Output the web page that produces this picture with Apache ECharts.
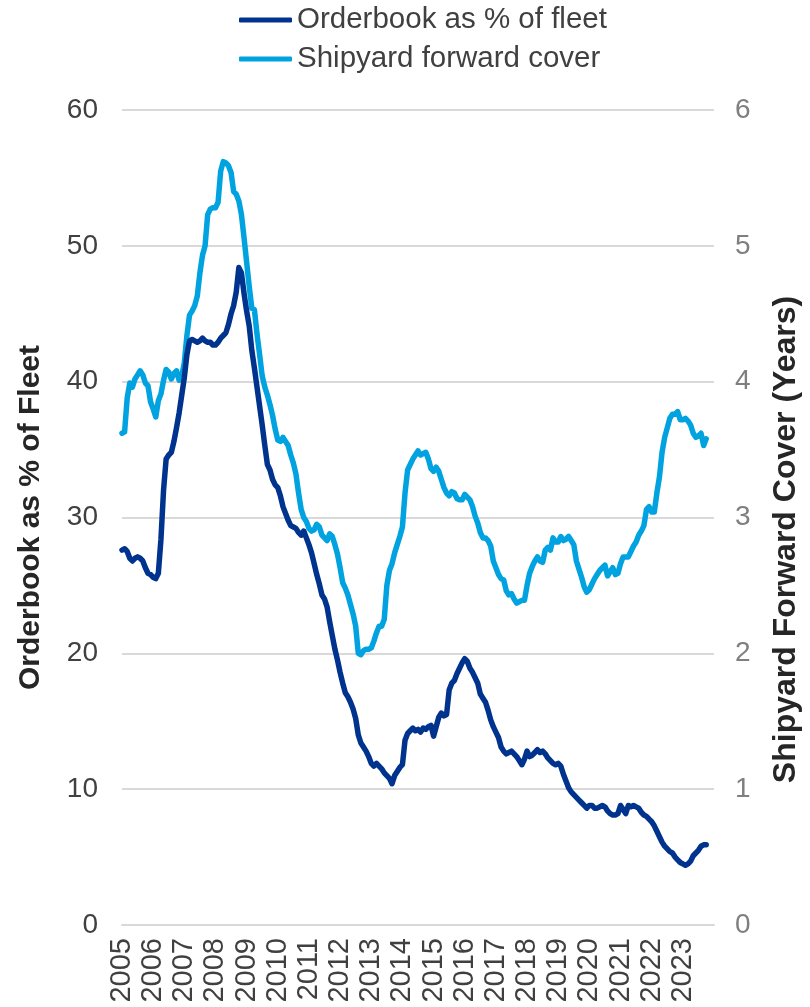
<!DOCTYPE html>
<html>
<head>
<meta charset="utf-8">
<script src="https://cdn.jsdelivr.net/npm/echarts@6/dist/echarts.min.js"></script>
<style>
  html, body { margin: 0; padding: 0; background: #ffffff; }
  #chart { width: 810px; height: 1007px; }
</style>
</head>
<body>
<div id="chart"></div>
<script>
// Monthly series, starting January 2005
const startYear = 2005;
const endYear = 2024;
const yearTicks = [2005, 2006, 2007, 2008, 2009, 2010, 2011, 2012, 2013, 2014,
                   2015, 2016, 2017, 2018, 2019, 2020, 2021, 2022, 2023];

// Orderbook as % of fleet (left axis, %)
const orderbookPct = [
  27.6, 27.7, 27.5, 27.0, 26.8, 27.0, 27.1, 27.0, 26.8, 26.3, 25.9, 25.8, // 2005
  25.6, 25.5, 25.9, 28.4, 32.0, 34.3, 34.6, 34.8, 35.6, 36.6, 37.7, 39.0, // 2006
  40.3, 42.0, 43.0, 43.1, 43.0, 42.9, 43.0, 43.2, 43.0, 42.9, 42.9, 42.7, // 2007
  42.7, 42.9, 43.2, 43.4, 43.6, 44.2, 45.0, 45.6, 46.6, 48.4, 48.0, 46.5, // 2008
  45.2, 44.1, 42.3, 41.0, 39.6, 38.2, 36.8, 35.3, 33.9, 33.5, 32.8, 32.4, // 2009
  32.2, 31.6, 30.8, 30.3, 29.8, 29.4, 29.3, 29.2, 28.9, 28.7, 29.0, 28.5, // 2010
  28.0, 27.4, 26.6, 25.8, 25.1, 24.3, 24.0, 23.4, 22.3, 21.3, 20.3, 19.5, // 2011
  18.6, 17.8, 17.1, 16.8, 16.4, 15.9, 15.2, 14.0, 13.4, 13.1, 12.8, 12.4, // 2012
  11.9, 11.7, 11.9, 11.7, 11.5, 11.2, 11.0, 10.8, 10.4, 11.0, 11.3, 11.6, // 2013
  11.8, 13.6, 14.1, 14.3, 14.5, 14.3, 14.4, 14.2, 14.5, 14.4, 14.6, 14.7, // 2014
  13.9, 14.6, 15.3, 15.6, 15.4, 15.5, 17.3, 17.8, 18.0, 18.5, 18.9, 19.3, // 2015
  19.6, 19.4, 18.9, 18.6, 18.2, 17.8, 17.0, 16.7, 16.4, 15.8, 15.1, 14.6, // 2016
  14.2, 13.8, 13.1, 12.8, 12.6, 12.7, 12.8, 12.6, 12.4, 12.1, 11.8, 12.2, // 2017
  12.8, 12.4, 12.5, 12.7, 12.9, 12.7, 12.8, 12.6, 12.3, 12.1, 11.9, 11.8, // 2018
  11.9, 11.7, 11.1, 10.6, 10.1,  9.8,  9.6,  9.4,  9.2,  9.0,  8.8,  8.6, // 2019
   8.8,  8.8,  8.6,  8.6,  8.7,  8.8,  8.7,  8.4,  8.2,  8.1,  8.1,  8.2, // 2020
   8.8,  8.5,  8.2,  8.8,  8.7,  8.8,  8.7,  8.6,  8.3,  8.1,  8.0,  7.8, // 2021
   7.6,  7.3,  6.9,  6.5,  6.1,  5.8,  5.6,  5.4,  5.3,  5.0,  4.8,  4.6, // 2022
   4.5,  4.4,  4.5,  4.7,  5.1,  5.3,  5.5,  5.8,  5.9,  5.9              // 2023
];

// Shipyard forward cover (right axis, years)
const forwardCoverYears = [
  3.62, 3.63, 3.88, 3.99, 3.96, 4.02, 4.05, 4.08, 4.05, 3.99, 3.97, 3.85, // 2005
  3.80, 3.74, 3.86, 3.91, 4.01, 4.09, 4.07, 4.02, 4.06, 4.08, 4.01, 4.04, // 2006
  4.14, 4.34, 4.49, 4.52, 4.56, 4.63, 4.80, 4.93, 5.00, 5.23, 5.27, 5.28, // 2007
  5.28, 5.32, 5.55, 5.62, 5.61, 5.59, 5.54, 5.40, 5.38, 5.33, 5.23, 5.06, // 2008
  4.88, 4.70, 4.54, 4.53, 4.35, 4.20, 4.04, 3.96, 3.90, 3.83, 3.75, 3.65, // 2009
  3.57, 3.56, 3.59, 3.56, 3.53, 3.46, 3.40, 3.32, 3.18, 3.06, 3.00, 2.97, // 2010
  2.92, 2.90, 2.91, 2.95, 2.93, 2.87, 2.85, 2.83, 2.88, 2.86, 2.80, 2.73, // 2011
  2.63, 2.52, 2.48, 2.43, 2.36, 2.29, 2.20, 2.00, 1.99, 2.02, 2.03, 2.03, // 2012
  2.04, 2.09, 2.15, 2.20, 2.20, 2.25, 2.50, 2.61, 2.66, 2.74, 2.80, 2.86, // 2013
  2.93, 3.18, 3.35, 3.39, 3.43, 3.46, 3.49, 3.46, 3.47, 3.48, 3.43, 3.36, // 2014
  3.34, 3.37, 3.34, 3.28, 3.22, 3.18, 3.16, 3.19, 3.18, 3.14, 3.13, 3.13, // 2015
  3.17, 3.15, 3.13, 3.08, 3.01, 2.96, 2.89, 2.85, 2.85, 2.83, 2.79, 2.68, // 2016
  2.63, 2.58, 2.55, 2.54, 2.46, 2.43, 2.44, 2.40, 2.37, 2.38, 2.39, 2.39, // 2017
  2.50, 2.59, 2.64, 2.68, 2.71, 2.68, 2.67, 2.76, 2.78, 2.76, 2.85, 2.82, // 2018
  2.82, 2.86, 2.83, 2.84, 2.86, 2.83, 2.80, 2.68, 2.62, 2.56, 2.49, 2.45, // 2019
  2.47, 2.51, 2.55, 2.58, 2.61, 2.63, 2.65, 2.57, 2.60, 2.63, 2.58, 2.59, // 2020
  2.66, 2.71, 2.71, 2.71, 2.75, 2.79, 2.82, 2.87, 2.90, 2.94, 3.06, 3.08, // 2021
  3.04, 3.04, 3.18, 3.30, 3.48, 3.59, 3.66, 3.73, 3.76, 3.76, 3.78, 3.72, // 2022
  3.72, 3.73, 3.71, 3.68, 3.62, 3.59, 3.60, 3.62, 3.53, 3.58              // 2023
];

const seriesNames = ['Orderbook as % of fleet', 'Shipyard forward cover'];
const axisTitles = ['Orderbook as % of Fleet', 'Shipyard Forward Cover (Years)'];

// Pair each monthly value with its date as a fractional year
const toPoints = arr => arr.map((v, i) => [startYear + i / 12, v]);

const FONT = "'Liberation Sans', Arial, Helvetica, sans-serif";
const GRID_COLOR = '#d9d9d9';

const chart = echarts.init(document.getElementById('chart'), null, { renderer: 'canvas' });

chart.setOption({
  backgroundColor: '#ffffff',
  animation: false,
  textStyle: { fontFamily: FONT },
  legend: {
    data: seriesNames,
    orient: 'vertical',
    left: 234,
    top: 0,
    itemWidth: 53,
    itemHeight: 5,
    itemGap: 9,
    icon: 'roundRect',
    textStyle: { fontFamily: FONT, fontSize: 29.5, color: '#404040', lineHeight: 30 }
  },
  grid: { left: 122, right: 85, top: 110, bottom: 82, containLabel: false },
  xAxis: {
    type: 'value',
    min: startYear,
    max: endYear,
    interval: 1,
    axisLine: { show: true, lineStyle: { color: GRID_COLOR, width: 2 } },
    axisTick: { show: false },
    splitLine: { show: false },
    axisLabel: {
      rotate: 90,
      margin: 13,
      fontSize: 29,
      fontFamily: FONT,
      color: '#404040',
      formatter: v => (yearTicks.indexOf(v) >= 0 ? String(v) : '')
    }
  },
  yAxis: [
    {
      type: 'value',
      min: 0,
      max: 60,
      interval: 10,
      position: 'left',
      axisLine: { show: false },
      axisTick: { show: false },
      splitLine: { show: true, lineStyle: { color: GRID_COLOR, width: 2 } },
      axisLabel: { fontSize: 28, fontFamily: FONT, color: '#404040', margin: 24 },
      name: axisTitles[0],
      nameLocation: 'middle',
      nameRotate: 90,
      nameGap: 76,
      nameTextStyle: { fontSize: 30, fontWeight: 'bold', fontFamily: FONT, color: '#262626' }
    },
    {
      type: 'value',
      min: 0,
      max: 6,
      interval: 1,
      position: 'right',
      axisLine: { show: false },
      axisTick: { show: false },
      splitLine: { show: false },
      axisLabel: { fontSize: 28, fontFamily: FONT, color: '#7f7f7f', margin: 21 },
      name: axisTitles[1],
      nameLocation: 'middle',
      nameRotate: 90,
      nameGap: 56,
      nameTextStyle: { fontSize: 32, fontWeight: 'bold', fontFamily: FONT, color: '#262626', padding: [0, 44, 0, 0] }
    }
  ],
  series: [
    {
      name: seriesNames[0],
      type: 'line',
      yAxisIndex: 0,
      data: toPoints(orderbookPct),
      showSymbol: false,
      symbol: 'none',
      smooth: false,
      z: 3,
      itemStyle: { color: '#00338d' },
      lineStyle: { color: '#00338d', width: 5.5, cap: 'round', join: 'round' }
    },
    {
      name: seriesNames[1],
      type: 'line',
      yAxisIndex: 1,
      data: toPoints(forwardCoverYears),
      showSymbol: false,
      symbol: 'none',
      smooth: false,
      z: 2,
      itemStyle: { color: '#00a3e0' },
      lineStyle: { color: '#00a3e0', width: 5.5, cap: 'round', join: 'round' }
    }
  ]
});
</script>
</body>
</html>
